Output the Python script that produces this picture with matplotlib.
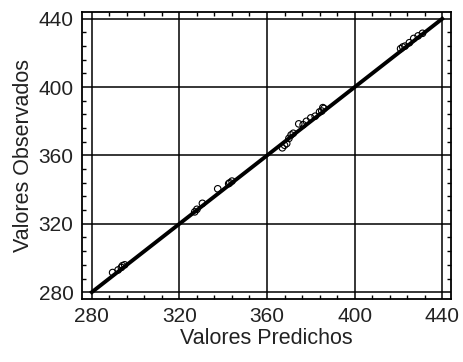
import matplotlib
matplotlib.use('Agg')
import matplotlib.pyplot as plt
import numpy as np

predichos = [289.5, 292, 293.5, 295, 294,
             327, 328, 330.5, 337.5, 342.5, 343, 344,
             367, 368, 369, 370, 371, 372, 374.5, 376.5, 378, 380, 382, 384, 385, 386, 385.5,
             421, 422, 423, 425, 427, 429, 431]
observados = [291.5, 293, 294.5, 296, 295.5,
              327, 328.5, 332, 340.5, 343.5, 344, 345,
              364.5, 366, 367, 370, 372, 373, 378.5, 378, 380, 382, 383, 385.5, 386, 387.5, 388,
              422.5, 423.5, 424, 426, 428.5, 430, 431.5]
ticks = [280, 320, 360, 400, 440]
linea = [280, 440]

plt.rcParams['font.family'] = ['Liberation Sans', 'DejaVu Sans']

fig = plt.figure(figsize=(4.63, 3.62), dpi=100)
ax = fig.add_axes([0.177, 0.174, 0.797, 0.793])

ax.plot(linea, linea, color='black', linewidth=2.8, zorder=3)
ax.scatter(predichos, observados, s=22, facecolors='none', edgecolors='black',
           linewidths=0.8, zorder=4)

ax.set_xlim(275.5, 444)
ax.set_ylim(276, 444)
ax.set_xticks(ticks)
ax.set_yticks(ticks)
ax.set_xticks(np.arange(280, 441, 8), minor=True)
ax.set_yticks(np.arange(280, 441, 8), minor=True)
ax.grid(True, which='major', color='black', linewidth=1.1)
ax.tick_params(which='both', direction='in', top=True, right=True, labelsize=15,
               labelcolor='#222222')
ax.tick_params(which='major', length=0, pad=6)
ax.tick_params(which='minor', length=3, width=1)
for s in ax.spines.values():
    s.set_linewidth(1.3)

ax.set_xlabel('Valores Predichos', fontsize=15.5, labelpad=1, color='#222222')
ax.set_ylabel('Valores Observados', fontsize=15.5, labelpad=3, color='#222222')

plt.savefig('out.png', dpi=100)
plt.close()
